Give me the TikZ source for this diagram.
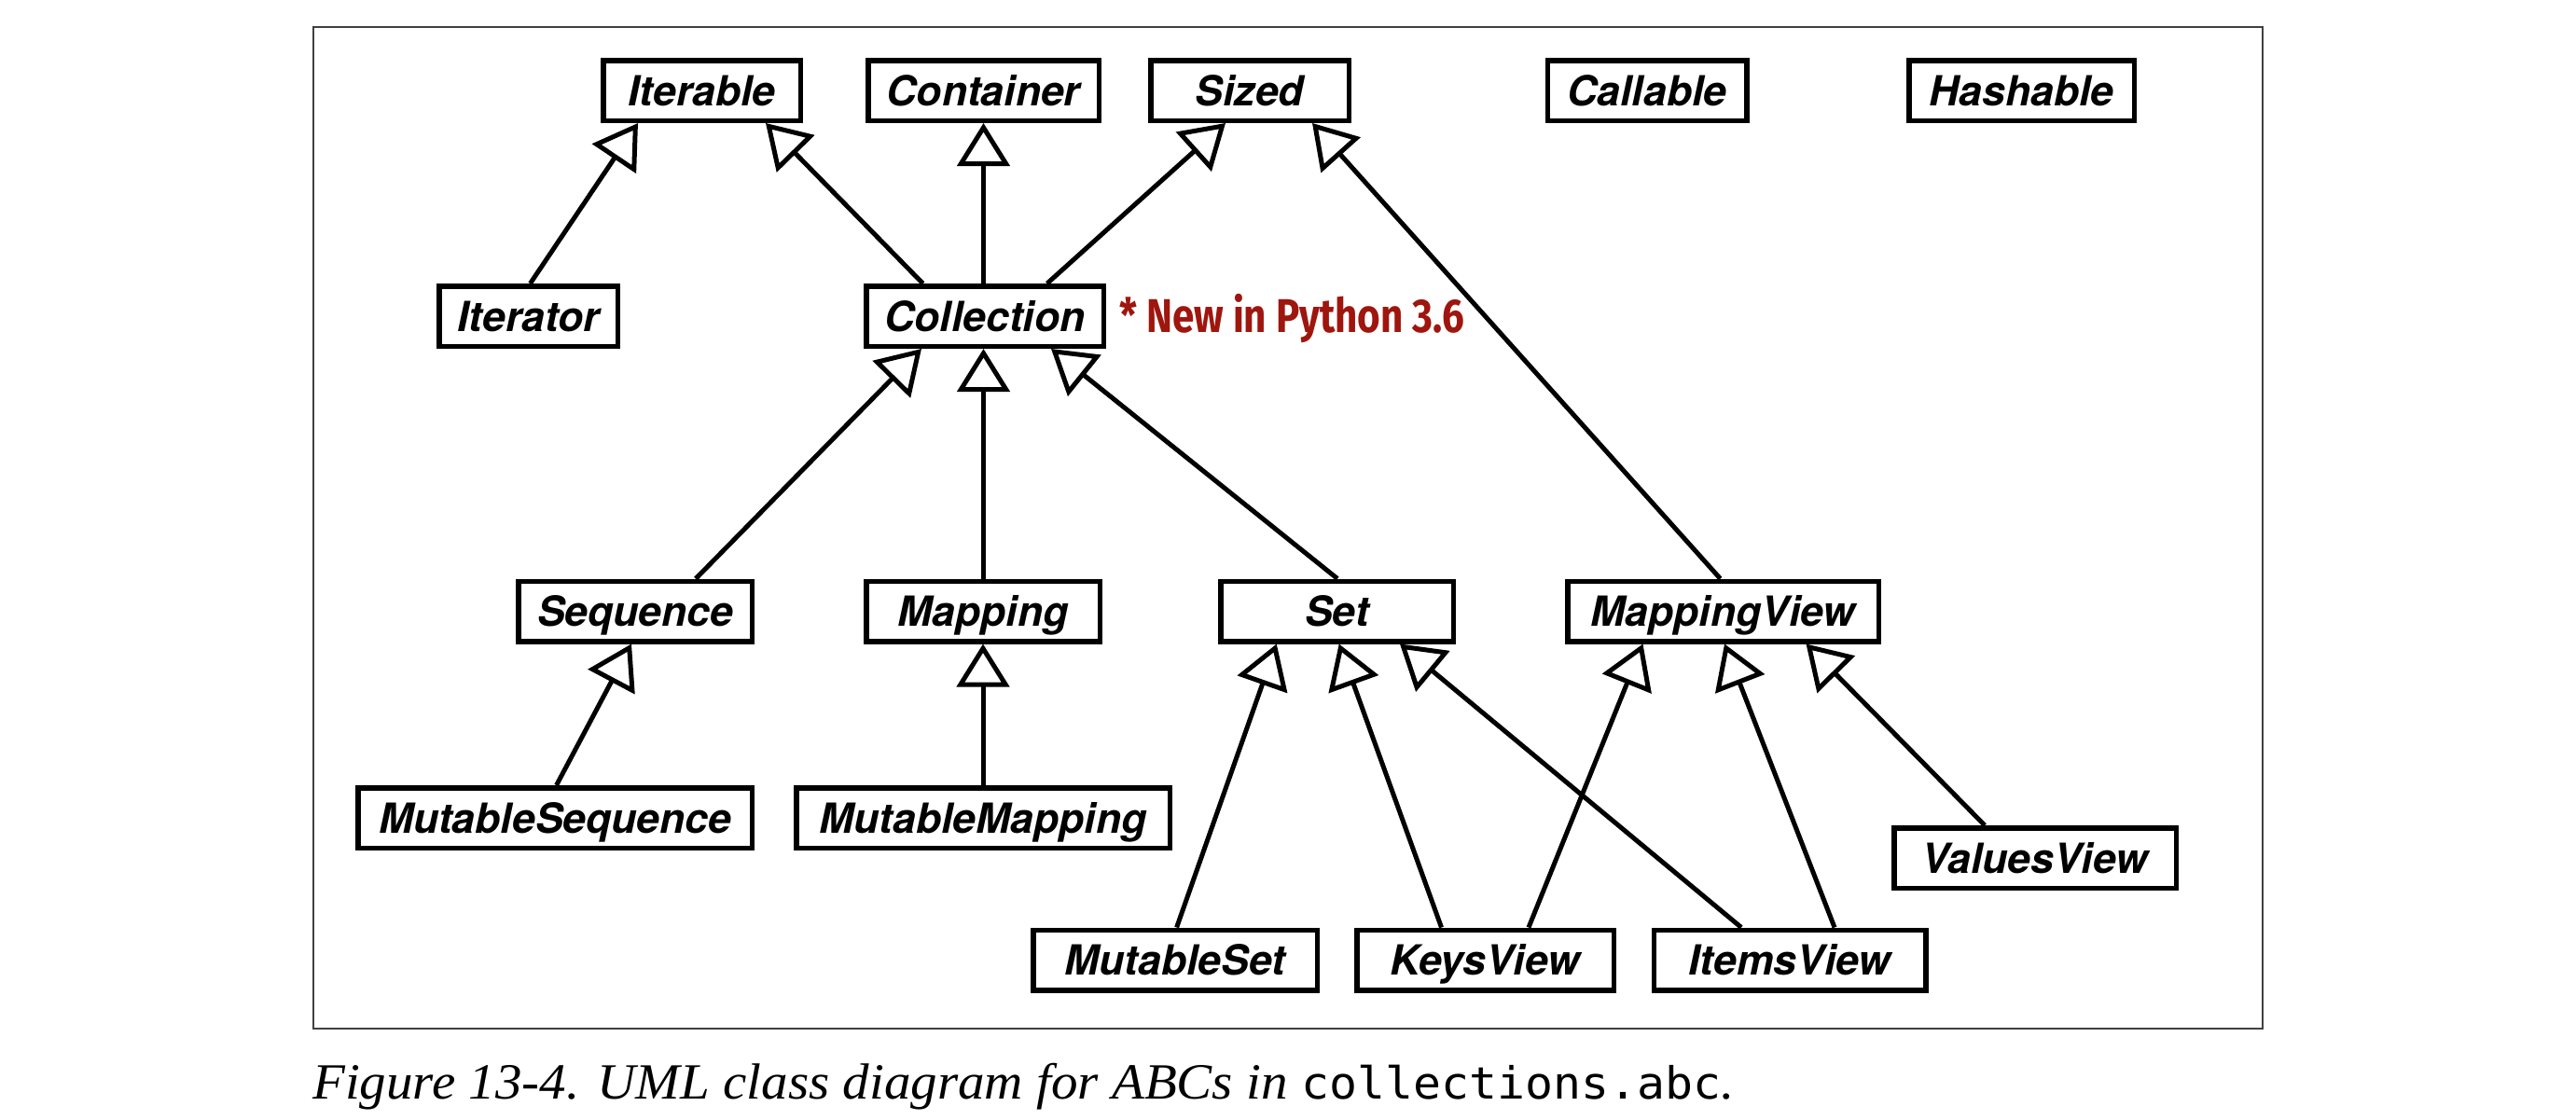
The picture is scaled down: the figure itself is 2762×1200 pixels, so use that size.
\documentclass[tikz,border=0pt]{standalone}
\usepackage{fontspec}
\usepackage{graphicx}
\usetikzlibrary{arrows.meta}
\newfontfamily\boxfont{TeX Gyre Heros}
\newfontfamily\notefont{Fira Sans}
\newfontfamily\capfont{Liberation Serif}
\newfontfamily\codefont{DejaVu Sans Mono}
\definecolor{notered}{RGB}{158,22,14}
\begin{document}
\begin{tikzpicture}[x=1pt,y=-1pt,
  cls/.style={draw=black, line width=5.5pt, fill=white, inner sep=0pt,
    minimum height=64.5pt, text height=32pt, text depth=0pt,
    font=\boxfont\fontsize{44.5}{50}\selectfont\bfseries\itshape},
  inh/.style={line width=5pt, line join=miter,
    -{Triangle[open, length=46pt, width=56pt]}}
]
\useasboundingbox (0,0) rectangle (2762,1200);
\fill[white] (0,0) rectangle (2762,1200);
\draw[black!75, line width=2pt] (336,29) rectangle (2426,1103);

% row 1
\node[cls, minimum width=211.5pt] (iterable)  at (752.5,97) {Iterable};
\node[cls, minimum width=247.5pt] (container) at (1054.5,97) {Container};
\node[cls, minimum width=212.5pt] (sized)     at (1340,97) {Sized};
\node[cls, minimum width=213.5pt] (callable)  at (1766,97) {Callable};
\node[cls, minimum width=241.5pt] (hashable)  at (2167.5,97) {Hashable};
% row 2
\node[cls, minimum width=191.5pt] (iterator)   at (566.5,339) {Iterator};
\node[cls, minimum width=254.5pt] (collection) at (1056,339) {Collection};
% row 3
\node[cls, minimum width=250.5pt] (sequence)    at (681,655.5) {Sequence};
\node[cls, minimum width=250.5pt] (mapping)     at (1054,655.5) {Mapping};
\node[cls, minimum width=249.5pt] (set)         at (1433.5,655.5) {Set};
\node[cls, minimum width=333.5pt] (mappingview) at (1847.5,655.5) {MappingView};
% row 4
\node[cls, minimum width=422.5pt] (mutseq)  at (595,877) {MutableSequence};
\node[cls, minimum width=400.5pt] (mutmap)  at (1054,877) {MutableMapping};
\node[cls, minimum width=302.5pt] (values)  at (2182,920) {ValuesView};
% row 5
\node[cls, minimum width=304.5pt] (mutset)  at (1260,1029.5) {MutableSet};
\node[cls, minimum width=275.5pt] (keys)    at (1592.5,1029.5) {KeysView};
\node[cls, minimum width=291.5pt] (items)   at (1919,1029.5) {ItemsView};

% note
\node[anchor=west, text=notered, inner sep=0pt, text height=35pt, text depth=0pt] (note) at (1200,339)
  {\resizebox{370pt}{\height}{\notefont\bfseries\fontsize{50.8}{55}\selectfont * New in Python 3.6}};

% connectors
\draw[inh] ([xshift=2pt]iterator.north) -- ([xshift=-68.5pt]iterable.south);
\draw[inh] ([xshift=-66.5pt]collection.north) -- ([xshift=68.5pt]iterable.south);
\draw[inh] ([xshift=-1.5pt]collection.north) -- (container.south);
\draw[inh] ([xshift=66.7pt]collection.north) -- ([xshift=-26pt]sized.south);
\draw[inh] ([xshift=-3pt]mappingview.north) -- ([xshift=67pt]sized.south);
\draw[inh] ([xshift=65pt]sequence.north) -- ([xshift=-68pt]collection.south);
\draw[inh] ([xshift=0.5pt]mapping.north) -- ([xshift=-1.5pt]collection.south);
\draw[inh] ([xshift=0.5pt]set.north) -- ([xshift=71pt]collection.south);
\draw[inh] ([xshift=1.6pt]mutseq.north) -- ([xshift=-4pt]sequence.south);
\draw[inh] (mutmap.north) -- (mapping.south);
\draw[inh] ([xshift=1.6pt]mutset.north) -- ([xshift=-64.75pt]set.south);
\draw[inh] ([xshift=-47pt]keys.north) -- ([xshift=2.2pt]set.south);
\draw[inh] ([xshift=-52pt]items.north) -- ([xshift=67.5pt]set.south);
\draw[inh] ([xshift=46.5pt]keys.north) -- ([xshift=-86pt]mappingview.south);
\draw[inh] ([xshift=48pt]items.north) -- ([xshift=1.5pt]mappingview.south);
\draw[inh] ([xshift=-54pt]values.north) -- ([xshift=89pt]mappingview.south);

% caption
\node[anchor=base west, inner sep=0pt] (caption) at (335,1178)
  {\resizebox{1524pt}{\height}{\capfont\itshape\fontsize{54.4}{60}\selectfont Figure 13-4. UML class diagram for ABCs in {\codefont\upshape\fontsize{47.5}{50}\selectfont collections.abc}.}};
\end{tikzpicture}
\end{document}
